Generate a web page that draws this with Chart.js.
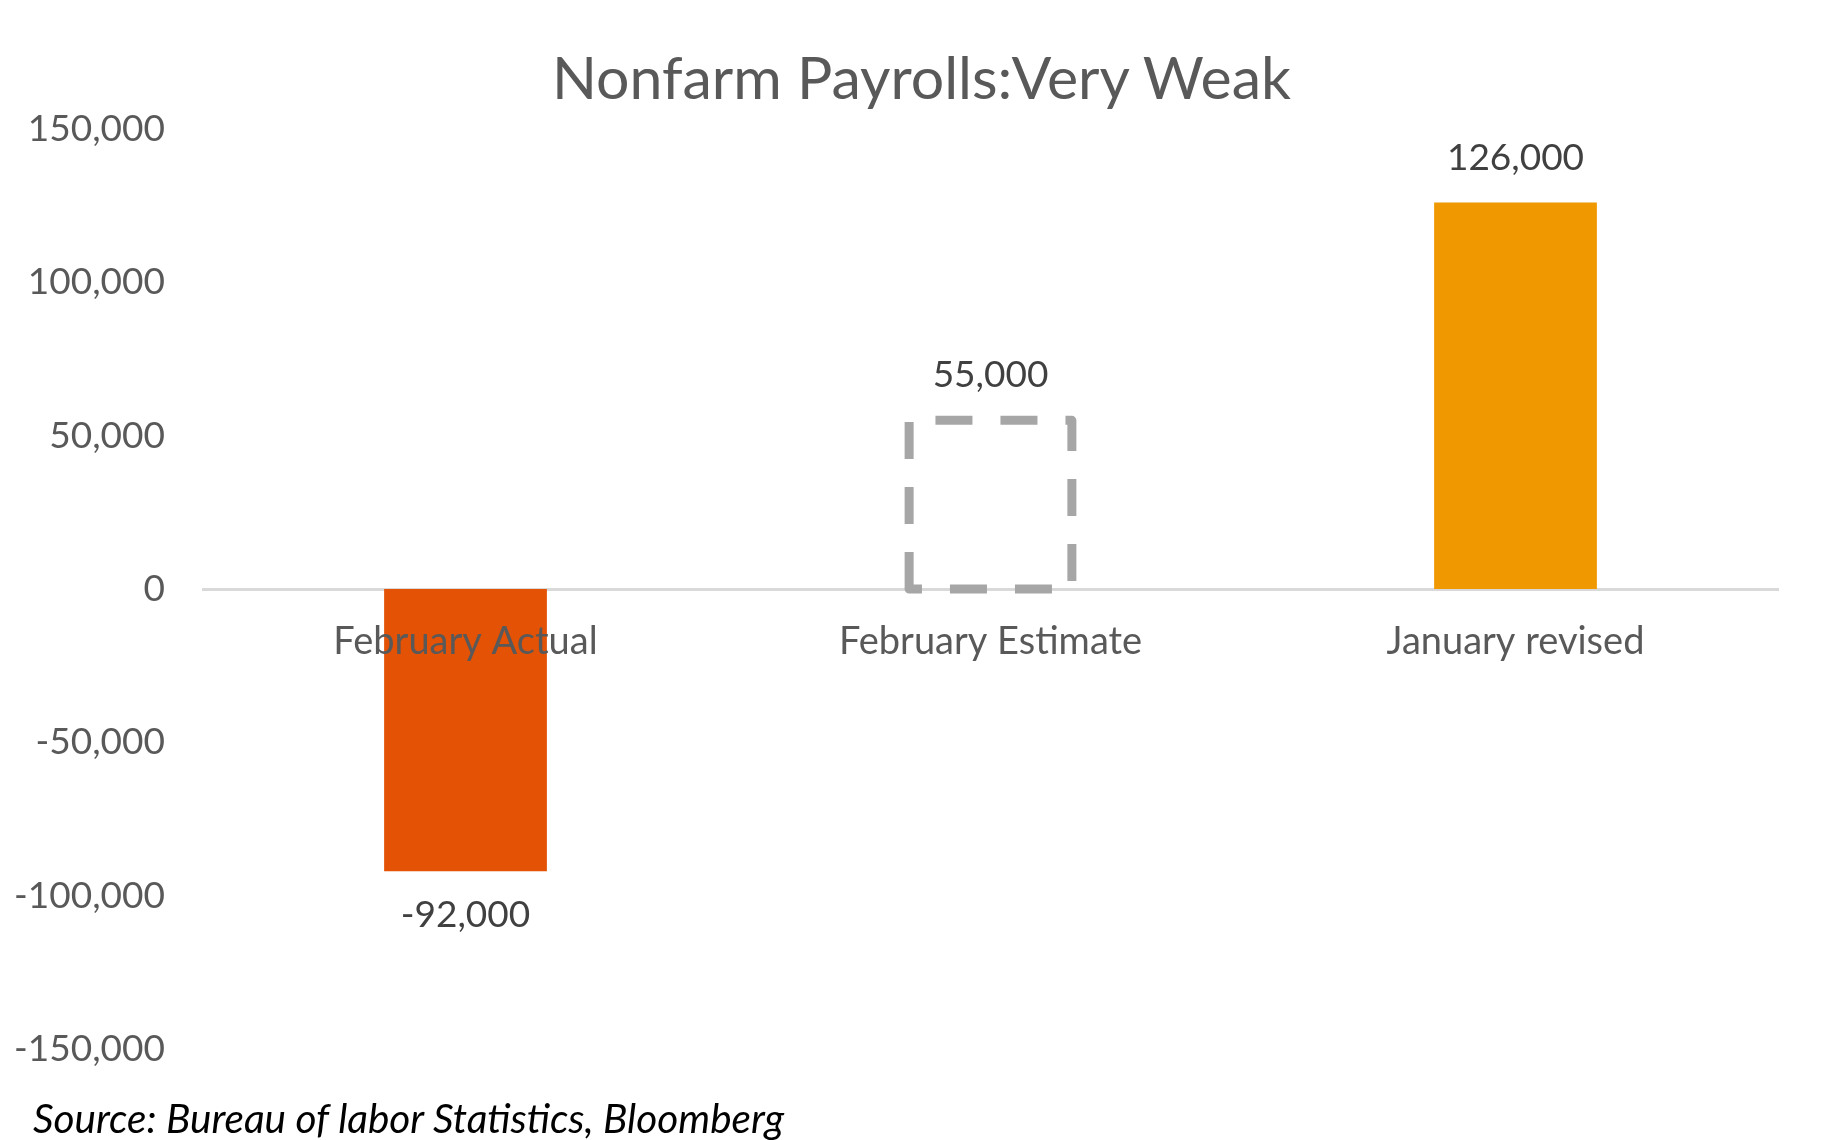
<!DOCTYPE html>
<html>
<head>
<meta charset="utf-8">
<title>Nonfarm Payrolls</title>
<script src="https://cdn.jsdelivr.net/npm/chart.js@4"></script>
<style>
    html, body { margin: 0; padding: 0; background: #ffffff; }
    #wrap { position: relative; width: 1843px; height: 1140px; }
    #title {
        position: absolute;
        left: 0;
        top: 42px;
        width: 1843px;
        text-align: center;
        font-family: Lato, "Open Sans", sans-serif;
        font-size: 59px;
        line-height: 70px;
        color: #595959;
    }
    #source {
        position: absolute;
        left: 33px;
        top: 1094px;
        font-family: Lato, "Open Sans", sans-serif;
        font-style: italic;
        font-size: 40.5px;
        line-height: 48px;
        color: #000000;
        white-space: nowrap;
    }
</style>
</head>
<body>
<div id="wrap">
    <canvas id="myChart"></canvas>
    <div id="title">Nonfarm Payrolls:Very Weak</div>
    <div id="source">Source: Bureau of labor Statistics, Bloomberg</div>
</div>
<script>
const categories = ['February Actual', 'February Estimate', 'January revised'];
const payrolls = [-92000, 55000, 126000];
const yTicks = { min: -150000, max: 150000, step: 50000 };

const barColors = ['#E35205', 'rgba(0,0,0,0)', '#F09800'];
const dashedBars = [false, true, false];

function fmt(v) {
    return v.toLocaleString('en-US');
}

// dashed outline for the estimate bar (bar elements have no borderDash)
const dashedBarPlugin = {
    id: 'dashedBar',
    afterDatasetsDraw(chart) {
        const ctx = chart.ctx;
        const meta = chart.getDatasetMeta(0);
        meta.data.forEach((bar, i) => {
            if (!dashedBars[i]) return;
            const left = bar.x - bar.width / 2;
            const top = Math.min(bar.y, bar.base);
            const h = Math.abs(bar.base - bar.y);
            ctx.save();
            ctx.strokeStyle = '#A6A6A6';
            ctx.lineWidth = 9;
            ctx.setLineDash([37, 28]);
            ctx.lineJoin = 'round';
            ctx.beginPath();
            ctx.moveTo(left, top + h);
            ctx.lineTo(left, top);
            ctx.lineTo(left + bar.width, top);
            ctx.lineTo(left + bar.width, top + h);
            ctx.closePath();
            ctx.stroke();
            ctx.restore();
        });
    }
};

// value labels above positive bars, below negative ones
const valueLabelPlugin = {
    id: 'valueLabels',
    afterDatasetsDraw(chart) {
        const ctx = chart.ctx;
        const meta = chart.getDatasetMeta(0);
        ctx.save();
        ctx.font = '37px Lato, "Open Sans", sans-serif';
        ctx.fillStyle = '#404040';
        ctx.textAlign = 'center';
        ctx.textBaseline = 'middle';
        meta.data.forEach((bar, i) => {
            const v = payrolls[i];
            const y = v >= 0 ? bar.y - 45 : bar.y + 44;
            ctx.fillText(fmt(v), bar.x, y);
        });
        ctx.restore();
    }
};

new Chart('myChart', {
    type: 'bar',
    data: {
        labels: categories,
        datasets: [{
            data: payrolls,
            backgroundColor: barColors,
            borderWidth: 0,
            categoryPercentage: 1,
            barPercentage: 0.31
        }]
    },
    options: {
        responsive: true,
        maintainAspectRatio: false,
        animation: false,
        layout: {
            padding: { top: 129, left: 0, right: 65, bottom: 91 }
        },
        plugins: {
            legend: { display: false },
            tooltip: { enabled: false },
            title: { display: false }
        },
        scales: {
            x: {
                position: { y: 0 },
                grid: { display: false, drawTicks: false },
                border: { display: true, color: '#D9D9D9', width: 3 },
                ticks: {
                    z: 1,
                    color: '#595959',
                    padding: 30,
                    maxRotation: 0,
                    font: { family: 'Lato, "Open Sans", sans-serif', size: 38 }
                }
            },
            y: {
                min: yTicks.min,
                max: yTicks.max,
                grid: { display: false, drawTicks: false },
                border: { display: false },
                afterFit(scale) {
                    scale.width = 203;
                },
                ticks: {
                    stepSize: yTicks.step,
                    color: '#595959',
                    padding: 38,
                    font: { family: 'Lato, "Open Sans", sans-serif', size: 37 },
                    callback: (v) => fmt(v)
                }
            }
        }
    },
    plugins: [dashedBarPlugin, valueLabelPlugin]
});

document.getElementById('myChart').parentNode.style.height = '1140px';
</script>
</body>
</html>
